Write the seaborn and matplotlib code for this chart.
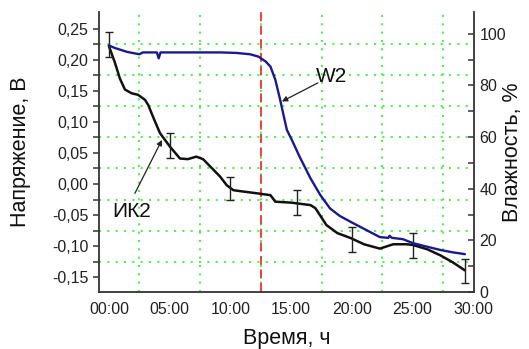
import numpy as np
import pandas as pd
import matplotlib
matplotlib.use("Agg")
import matplotlib.pyplot as plt
import seaborn as sns
from matplotlib.ticker import FuncFormatter, FixedLocator

sns.set_style("white")
plt.rcParams['font.family'] = ['Liberation Sans', 'DejaVu Sans']

# --- data ---
time_ik2 = [0, 0.5, 0.9, 1.32, 1.87, 2.4, 2.97, 3.24, 3.7, 4.2, 5.03, 5.85, 6.5, 7.2,
            7.75, 8.6, 9.15, 9.7, 10.25, 11.0, 12.2, 13.3, 13.7, 15.0, 16.6, 17.0,
            17.9, 18.8, 19.9, 21.0, 22.3, 23.4, 24.5, 25.0, 26.2, 27.3, 28.3, 29.3]
volt_ik2 = [0.222, 0.195, 0.170, 0.152, 0.146, 0.1435, 0.1355, 0.127, 0.105, 0.082,
            0.060, 0.041, 0.040, 0.044, 0.040, 0.023, 0.012, -0.002, -0.010, -0.012,
            -0.015, -0.018, -0.0285, -0.030, -0.034, -0.039, -0.066, -0.079, -0.087,
            -0.097, -0.104, -0.097, -0.097, -0.098, -0.105, -0.115, -0.126, -0.139]

time_w2 = [0, 0.5, 1.5, 2.5, 2.8, 3.5, 3.95, 4.1, 4.25, 4.5, 6, 8, 9.2, 10.5, 11.6,
           12.3, 12.9, 13.3, 13.7, 14.1, 14.4, 14.65, 15.06, 15.7, 16.6, 17.4, 18.2,
           19.0, 19.9, 21.0, 22.3, 23.0, 23.1, 23.3, 24.2, 25.0, 26.0, 27.3, 28.3, 29.3]
hum_w2 = [95.5, 94.5, 93.0, 92.1, 92.8, 92.8, 92.8, 90.5, 92.8, 92.8, 92.8, 92.8, 92.8,
          92.6, 92.1, 91.2, 89.3, 87.3, 82.2, 74.4, 68.0, 62.8, 58.9, 52.4, 44.0, 37.6,
          32.4, 29.5, 27.2, 24.5, 21.3, 21.0, 21.8, 21.0, 20.5, 19.0, 17.8, 16.3, 15.4, 14.7]

err_time = [0, 5, 10, 15.5, 20, 25, 29.3]
err_volt = [0.225, 0.062, -0.007, -0.030, -0.089, -0.099, -0.140]
err_half = [0.02, 0.02, 0.019, 0.02, 0.02, 0.02, 0.02]

x_major = [0, 5, 10, 15, 20, 25, 30]
x_minor = [2.5, 7.5, 12.5, 17.5, 22.5, 27.5]
v_major = [-0.15, -0.10, -0.05, 0.00, 0.05, 0.10, 0.15, 0.20, 0.25]
v_minor = [-0.125, -0.075, -0.025, 0.025, 0.075, 0.125, 0.175, 0.225]
h_major = [0, 20, 40, 60, 80, 100]
h_minor = [10, 30, 50, 70, 90]
marker_time = 12.5

df_ik2 = pd.DataFrame({"t": time_ik2, "v": volt_ik2})
df_w2 = pd.DataFrame({"t": time_w2, "h": hum_w2})

fig = plt.figure(figsize=(5.29, 3.49), dpi=100)
ax = fig.add_axes([0.187, 0.163, 0.709, 0.803])
ax2 = ax.twinx()

# grid on minor ticks
ax.xaxis.set_major_locator(FixedLocator(x_major))
ax.xaxis.set_minor_locator(FixedLocator(x_minor))
ax.yaxis.set_major_locator(FixedLocator(v_major))
ax.yaxis.set_minor_locator(FixedLocator(v_minor))
ax.grid(False)
ax.grid(which='minor', color='#55ee55', linestyle=(0, (1, 3)), linewidth=1.5)
ax.set_axisbelow(True)

ax.axvline(marker_time, color='#ee3333', linestyle=(0, (5, 2.5)), linewidth=1.3, zorder=1.5)

sns.lineplot(data=df_ik2, x="t", y="v", ax=ax, color='#111111', linewidth=1.8, zorder=3)
ax.errorbar(err_time, err_volt, yerr=err_half, fmt='none', ecolor='#222222',
            elinewidth=1.0, capsize=3, capthick=1.0, zorder=4)

sns.lineplot(data=df_w2, x="t", y="h", ax=ax2, color='#1a1a8a', linewidth=1.7, zorder=3)

ax.set_xlim(-0.82, 30.05)
ax.set_ylim(-0.174, 0.277)
ax2.set_ylim(0, 108.5)
ax2.yaxis.set_major_locator(FixedLocator(h_major))
ax2.yaxis.set_minor_locator(FixedLocator(h_minor))

ax.xaxis.set_major_formatter(FuncFormatter(lambda v, p: f"{int(round(v)):02d}:00"))
ax.yaxis.set_major_formatter(FuncFormatter(lambda v, p: f"{v:.2f}".replace('.', ',')))
ax2.yaxis.set_major_formatter(FuncFormatter(lambda v, p: f"{int(round(v))}"))

spine_c = '#333333'
for s in ['top', 'right']:
    ax.spines[s].set_visible(False)
for s in ['top', 'left', 'bottom']:
    ax2.spines[s].set_visible(False)
for s in ['left', 'bottom']:
    ax.spines[s].set_color(spine_c)
    ax.spines[s].set_linewidth(1.3)
ax2.spines['right'].set_color(spine_c)
ax2.spines['right'].set_linewidth(1.3)

ax.tick_params(axis='both', which='both', direction='out', length=4, width=1.1,
               color=spine_c, labelsize=11.5, labelcolor='#222222')
ax.tick_params(axis='x', pad=3)
ax2.tick_params(axis='y', which='both', direction='in', length=4, width=1.1,
                color=spine_c, labelsize=11.5, labelcolor='#222222', pad=4)

ax.set_xlabel("Время, ч", fontsize=15.5, color='#111111', labelpad=8)
ax.set_ylabel("Напряжение, В", fontsize=15.5, color='#111111', labelpad=15)
ax2.set_ylabel("Влажность, %", fontsize=15.5, color='#111111', labelpad=-3)

# annotations
arrow_kw = dict(arrowstyle='-|>', color='#222222', lw=0.9, mutation_scale=8,
                shrinkA=0, shrinkB=0)
ax2.annotate('', xy=(14.24, 73.8), xytext=(17.2, 81.0), arrowprops=arrow_kw)
ax2.text(18.3, 83.4, "W2", fontsize=15, ha='center', va='center', color='#111111')
ax.annotate('', xy=(4.37, 0.071), xytext=(2.14, -0.015), arrowprops=arrow_kw)
ax.text(1.9, -0.045, "ИК2", fontsize=15, ha='center', va='center', color='#111111')

fig.savefig("out.png", dpi=100)
